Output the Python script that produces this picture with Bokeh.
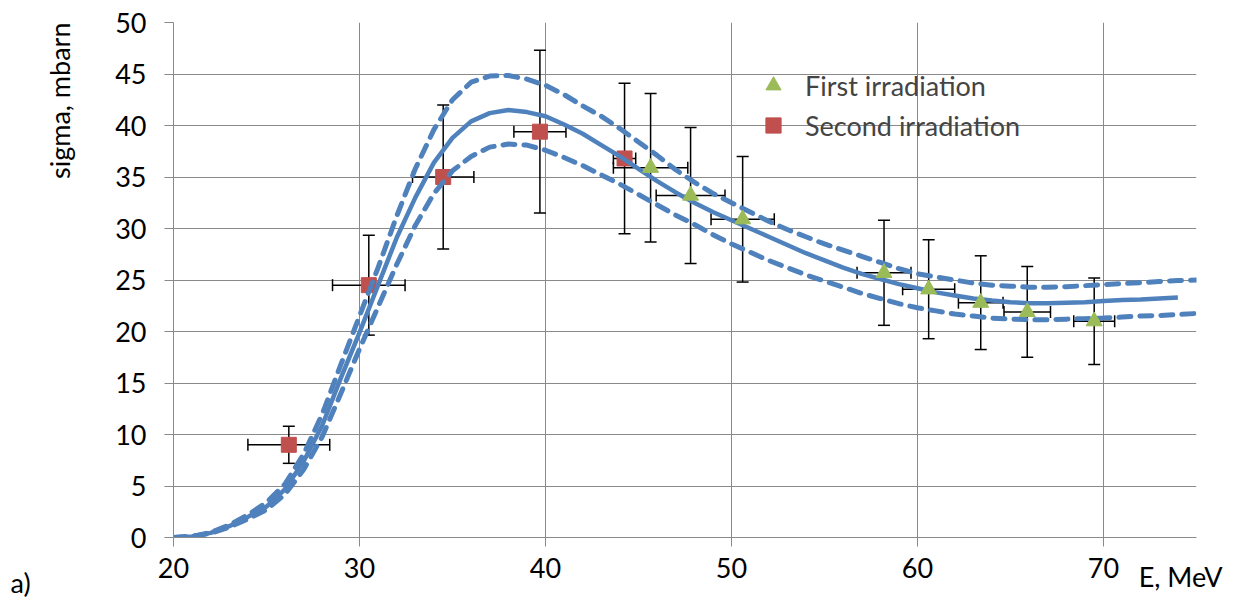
import math
from bokeh.plotting import figure
from bokeh.models import (Range1d, ColumnDataSource, Whisker, TeeHead,
                          Legend, LegendItem, FixedTicker, Title)
from bokeh.embed import file_html
from bokeh.resources import INLINE

# ---- data ----
x_ticks = [20, 30, 40, 50, 60, 70]
y_ticks = [0, 5, 10, 15, 20, 25, 30, 35, 40, 45, 50]
x_title = "E, MeV"
y_title = "sigma, mbarn"
panel_tag = "a)"

fit_E = list(range(20, 75))
fit_sigma = [0.0, 0.1, 0.45, 1.1, 2.0, 3.0, 4.7, 7.4, 10.9, 15.5,
             19.9, 24.5, 29.1, 33.0, 36.4, 38.8, 40.4, 41.2, 41.5, 41.3,
             40.9, 40.1, 39.2, 38.1, 37.0, 35.8, 34.6, 33.5, 32.5, 31.6,
             30.8, 30.0, 29.2, 28.4, 27.6, 26.9, 26.2, 25.6, 25.1, 24.6,
             24.2, 23.8, 23.5, 23.2, 23.0, 22.85, 22.75, 22.75, 22.8, 22.85,
             22.95, 23.05, 23.1, 23.2, 23.3]

band_E = list(range(20, 76))
upper_sigma = [0.0, 0.1, 0.5, 1.2, 2.2, 3.4, 5.2, 8.1, 12.0, 16.8,
               21.5, 26.2, 31.2, 35.8, 39.6, 42.5, 44.2, 44.8, 44.85, 44.5,
               43.9, 43.0, 41.9, 40.9, 39.7, 38.4, 37.1, 35.7, 34.5, 33.4,
               32.5, 31.6, 30.7, 29.9, 29.2, 28.5, 27.9, 27.3, 26.7, 26.1,
               25.6, 25.3, 25.0, 24.7, 24.5, 24.4, 24.3, 24.3, 24.35, 24.45,
               24.55, 24.65, 24.75, 24.85, 24.95, 25.0]
lower_sigma = [0.0, 0.1, 0.4, 1.0, 1.8, 2.7, 4.2, 6.6, 9.8, 14.0,
               18.3, 22.4, 26.5, 30.3, 33.4, 35.6, 37.0, 37.9, 38.2, 38.1,
               37.6, 36.9, 36.1, 35.2, 34.3, 33.3, 32.3, 31.3, 30.4, 29.4,
               28.5, 27.7, 26.9, 26.2, 25.5, 24.9, 24.3, 23.7, 23.2, 22.7,
               22.3, 22.0, 21.7, 21.5, 21.3, 21.2, 21.15, 21.15, 21.2, 21.25,
               21.3, 21.4, 21.5, 21.55, 21.65, 21.75]

first_E = [45.65, 47.8, 50.6, 58.2, 60.6, 63.4, 65.9, 69.5]
first_sigma = [35.9, 33.2, 30.9, 25.7, 24.1, 22.8, 21.9, 21.0]
first_dE = [2.0, 1.85, 1.7, 1.45, 1.4, 1.2, 1.25, 1.1]
first_dsigma = [7.2, 6.6, 6.1, 5.1, 4.8, 4.55, 4.4, 4.2]

second_E = [26.2, 30.5, 34.5, 39.7, 44.25]
second_sigma = [9.0, 24.5, 35.0, 39.4, 36.8]
second_dE = [2.2, 1.95, 1.65, 1.4, 0.6]
second_dsigma = [1.8, 4.85, 7.0, 7.9, 7.3]

BLUE = "#4F81BD"
RED = "#C0504D"
GREEN = "#9BBB59"
GRID = "#8A8A8A"
FONT = "Lato"
FS = "27px"

p = figure(width=1240, height=607, x_range=Range1d(20, 75), y_range=Range1d(0, 50),
           output_backend="svg", toolbar_location=None,
           min_border_left=173, min_border_right=44, min_border_top=22,
           min_border_bottom=70)
p.outline_line_color = None
p.background_fill_color = "white"
p.border_fill_color = "white"

p.xaxis.ticker = FixedTicker(ticks=x_ticks)
p.yaxis.ticker = FixedTicker(ticks=y_ticks)
for ax in (p.xaxis, p.yaxis):
    ax.axis_line_color = GRID
    ax.major_tick_line_color = GRID
    ax.major_tick_out = 9
    ax.major_tick_in = 0
    ax.minor_tick_line_color = None
    ax.major_label_text_font = FONT
    ax.major_label_text_font_size = FS
    ax.major_label_text_color = "black"
p.xaxis.major_label_standoff = 11
p.yaxis.major_label_standoff = 18
p.xgrid.grid_line_color = GRID
p.ygrid.grid_line_color = GRID


def add_errors(E, s, dE, ds):
    src = ColumnDataSource(dict(
        x=E, y=s,
        xl=[a - b for a, b in zip(E, dE)], xu=[a + b for a, b in zip(E, dE)],
        yl=[a - b for a, b in zip(s, ds)], yu=[a + b for a, b in zip(s, ds)]))
    for dim, base, lo, hi in (("height", "x", "yl", "yu"), ("width", "y", "xl", "xu")):
        w = Whisker(source=src, base=base, lower=lo, upper=hi, dimension=dim,
                    line_color="black", line_width=1.5, level="underlay",
                    upper_head=TeeHead(size=12, line_color="black", line_width=1.5),
                    lower_head=TeeHead(size=12, line_color="black", line_width=1.5))
        p.add_layout(w)
    return src


src2 = add_errors(second_E, second_sigma, second_dE, second_dsigma)
r_second = p.scatter("x", "y", source=src2, marker="square", size=15,
                     fill_color=RED, line_color=RED)

p.line(band_E, upper_sigma, line_color=BLUE, line_width=5, line_dash="12 9",
       line_cap="round", line_join="round")
p.line(band_E, lower_sigma, line_color=BLUE, line_width=5, line_dash="12 9",
       line_cap="round", line_join="round")
p.line(fit_E, fit_sigma, line_color=BLUE, line_width=4.5, line_join="round")

src1 = add_errors(first_E, first_sigma, first_dE, first_dsigma)
r_first = p.scatter("x", "y", source=src1, marker="triangle", size=16,
                    fill_color=GREEN, line_color=GREEN)

legend = Legend(items=[LegendItem(label="First irradiation", renderers=[r_first]),
                       LegendItem(label="Second irradiation", renderers=[r_second])],
                location=(581, 393), border_line_color=None, background_fill_alpha=0,
                label_text_font=FONT, label_text_font_size=FS, glyph_width=38,
                glyph_height=38, label_standoff=13, spacing=2, padding=0, margin=0)
p.add_layout(legend)

# y-axis caption near the top of the left side
ytitle = Title(text=y_title, align="right", text_font=FONT, text_color="black",
               text_font_size=FS, text_font_style="normal", standoff=74)
p.add_layout(ytitle, "left")

# panel tag "a)" at the bottom-left corner
tag = Title(text=panel_tag, align="left", vertical_align="top", offset=-163,
            text_font=FONT, text_color="black", text_font_size=FS,
            text_font_style="normal", standoff=-30)
p.add_layout(tag, "below")

# x-axis caption right of the last tick label
xtitle = Title(text=x_title, align="right", vertical_align="top", offset=-26,
               text_font=FONT, text_color="black", text_font_size=FS,
               text_font_style="normal", standoff=-52)
p.add_layout(xtitle, "below")

open("out.html", "w").write(file_html(p, INLINE))
